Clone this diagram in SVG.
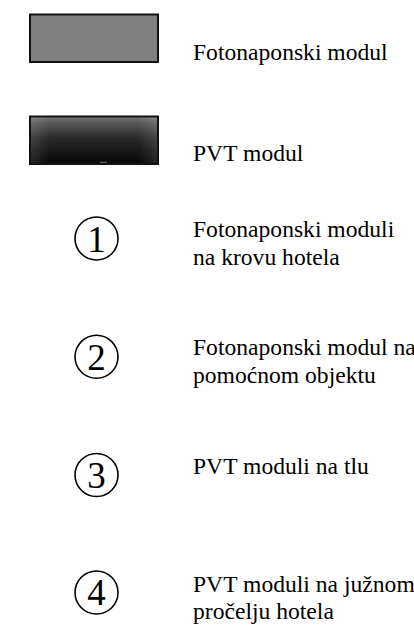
<svg xmlns="http://www.w3.org/2000/svg" width="414" height="630" viewBox="0 0 414 630">
  <style>
    .lbl { font-family: "Liberation Serif", "Times New Roman", serif; font-size: 23.6px; fill: #000; }
    .num { font-family: "Liberation Serif", "Times New Roman", serif; font-size: 37px; fill: #000; text-anchor: middle; }
    .ring { fill: none; stroke: #000; stroke-width: 1.6; }
    .box { stroke: #111; stroke-width: 2; }
  </style>
  <defs>
    <linearGradient id="pvt" x1="0" y1="0" x2="0" y2="1">
      <stop offset="0" stop-color="#7a7a7a"/>
      <stop offset="0.12" stop-color="#5a5a5a"/>
      <stop offset="0.45" stop-color="#2a2a2a"/>
      <stop offset="0.8" stop-color="#111"/>
      <stop offset="1" stop-color="#050505"/>
    </linearGradient>
    <linearGradient id="pvtEdge" x1="0" y1="0" x2="1" y2="0">
      <stop offset="0" stop-color="#fff" stop-opacity="0.12"/>
      <stop offset="0.15" stop-color="#fff" stop-opacity="0"/>
      <stop offset="0.85" stop-color="#fff" stop-opacity="0"/>
      <stop offset="1" stop-color="#fff" stop-opacity="0.12"/>
    </linearGradient>
  </defs>

  <g id="legend-pv">
    <rect class="box" x="30" y="14.5" width="128" height="47.5" fill="#808080"/>
    <text class="lbl" x="193" y="59.5">Fotonaponski modul</text>
  </g>

  <g id="legend-pvt">
    <rect class="box" x="30" y="116.5" width="128" height="47.5" fill="url(#pvt)"/>
    <rect x="31" y="117.5" width="126" height="45.5" fill="url(#pvtEdge)"/>
    <line x1="100" y1="162.3" x2="107" y2="162.3" stroke="#8a8a8a" stroke-width="0.8"/>
    <text class="lbl" x="193" y="160.7">PVT modul</text>
  </g>

  <g id="item-1">
    <circle class="ring" cx="96.5" cy="238.5" r="21.5"/>
    <text class="num" x="96.5" y="251.5">1</text>
    <text class="lbl" x="193" y="237">Fotonaponski moduli</text>
    <text class="lbl" x="193" y="265">na krovu hotela</text>
  </g>

  <g id="item-2">
    <circle class="ring" cx="96.5" cy="356.8" r="21.5"/>
    <text class="num" x="96.5" y="369.8">2</text>
    <text class="lbl" x="193" y="355">Fotonaponski modul na</text>
    <text class="lbl" x="193" y="383">pomoćnom objektu</text>
  </g>

  <g id="item-3">
    <circle class="ring" cx="96.5" cy="475" r="21.5"/>
    <text class="num" x="96.5" y="488">3</text>
    <text class="lbl" x="193" y="474">PVT moduli na tlu</text>
  </g>

  <g id="item-4">
    <circle class="ring" cx="96.5" cy="592.5" r="21.5"/>
    <text class="num" x="96.5" y="605">4</text>
    <text class="lbl" x="193" y="592">PVT moduli na južnom</text>
    <text class="lbl" x="193" y="619">pročelju hotela</text>
  </g>

  <g id="connectors"></g>
</svg>
